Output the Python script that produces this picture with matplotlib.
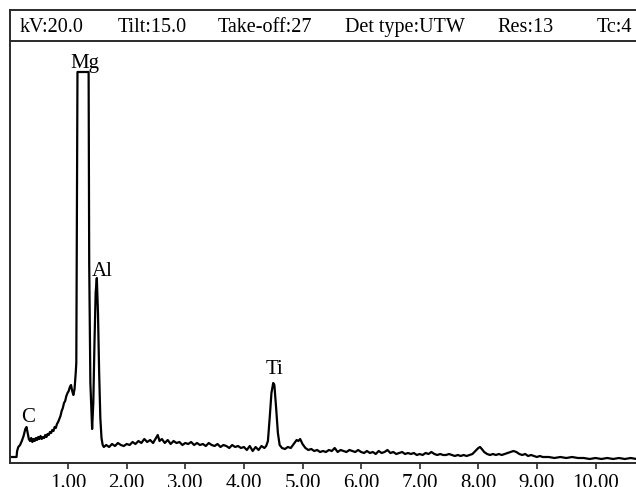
import matplotlib
matplotlib.use("Agg")
import matplotlib.pyplot as plt
import numpy as np

# ---- data ----
energy_low = [0.00, 0.12, 0.13, 0.15, 0.18, 0.21, 0.24, 0.27, 0.29, 0.31, 0.33, 0.35, 0.37, 0.39,
              0.41, 0.43, 0.45, 0.47, 0.49, 0.51, 0.53, 0.55, 0.57, 0.59, 0.61, 0.63, 0.65, 0.67,
              0.69, 0.71, 0.73, 0.75, 0.77, 0.79, 0.81, 0.83, 0.85, 0.87, 0.89, 0.91, 0.93, 0.95,
              0.97, 0.99, 1.01, 1.03, 1.05, 1.07, 1.09, 1.11, 1.13, 1.14, 1.16, 1.35, 1.36, 1.38,
              1.41, 1.43, 1.45, 1.47, 1.49, 1.51, 1.53, 1.55, 1.57, 1.59, 1.61]
counts_low = [6, 6, 12, 16, 18, 22, 27, 34, 36, 30, 24, 22, 25, 21,
              24, 22, 25, 23, 26, 24, 27, 24, 26, 25, 28, 26, 29, 28,
              31, 30, 33, 32, 36, 35, 39, 41, 44, 47, 52, 55, 60, 62,
              67, 70, 72, 76, 78, 72, 68, 74, 90, 100, 391, 391, 200, 80,
              34, 60, 120, 170, 185, 150, 90, 45, 25, 18, 16]

energy_mid = [1.65, 1.70, 1.75, 1.80, 1.85, 1.90, 1.95, 2.00, 2.05, 2.10, 2.15, 2.20, 2.25, 2.30,
              2.35, 2.40, 2.45, 2.50, 2.53, 2.56, 2.60, 2.65, 2.70, 2.75, 2.80, 2.85, 2.90, 2.95,
              3.00, 3.05, 3.10, 3.15, 3.20, 3.25, 3.30, 3.35, 3.40, 3.45, 3.50, 3.55, 3.60, 3.65,
              3.70, 3.75, 3.80, 3.85, 3.90, 3.95, 4.00, 4.05, 4.10, 4.15, 4.20, 4.25, 4.30, 4.35,
              4.38, 4.41, 4.44, 4.47, 4.50, 4.52, 4.55, 4.58, 4.61, 4.65, 4.70, 4.75, 4.80, 4.85,
              4.90, 4.93, 4.96, 5.00]
counts_mid = [18, 16, 19, 17, 20, 18, 17, 19, 18, 21, 19, 22, 20, 24,
              21, 23, 20, 25, 28, 22, 24, 20, 23, 19, 22, 20, 21, 18,
              20, 19, 21, 18, 20, 18, 19, 17, 20, 18, 17, 19, 16, 18,
              17, 15, 18, 16, 17, 15, 16, 13, 17, 12, 16, 13, 17, 15,
              17, 22, 45, 70, 80, 78, 55, 30, 18, 15, 14, 16, 15, 19,
              23, 22, 24, 19]

energy_high = [5.05, 5.10, 5.15, 5.20, 5.25, 5.30, 5.35, 5.40, 5.45, 5.50, 5.55, 5.60, 5.65, 5.70,
               5.75, 5.80, 5.85, 5.90, 5.95, 6.00, 6.05, 6.10, 6.15, 6.20, 6.25, 6.30, 6.35, 6.40,
               6.45, 6.50, 6.55, 6.60, 6.65, 6.70, 6.75, 6.80, 6.85, 6.90, 6.95, 7.00, 7.05, 7.10,
               7.15, 7.20, 7.25, 7.30, 7.35, 7.40, 7.45, 7.50, 7.55, 7.60, 7.65, 7.70, 7.75, 7.80,
               7.85, 7.90, 7.95, 8.00, 8.03, 8.06, 8.10, 8.15, 8.20, 8.25, 8.30, 8.35, 8.40, 8.45,
               8.50, 8.55, 8.60, 8.65, 8.70, 8.75, 8.80, 8.85, 8.90, 8.95, 9.00, 9.05, 9.10, 9.20,
               9.30, 9.40, 9.50, 9.60, 9.70, 9.80, 9.90, 10.00, 10.10, 10.20, 10.30, 10.40, 10.50,
               10.60, 10.70]
counts_high = [15, 13, 14, 12, 13, 11, 12, 11, 13, 12, 15, 11, 13, 12,
               11, 13, 12, 11, 13, 11, 10, 12, 10, 11, 9, 12, 10, 11,
               13, 10, 11, 9, 10, 11, 9, 10, 9, 10, 8, 9, 8, 10,
               9, 11, 9, 8, 9, 8, 8, 9, 8, 7, 8, 7, 8, 7,
               8, 9, 12, 15, 16, 14, 11, 9, 8, 9, 8, 9, 8, 9,
               10, 11, 12, 11, 9, 8, 9, 7, 8, 7, 6, 7, 6, 6,
               5, 6, 5, 6, 5, 5, 4, 5, 4, 5, 4, 5, 4,
               5, 4]

tick_values = [1, 2, 3, 4, 5, 6, 7, 8, 9, 10]
tick_labels = ["1.00", "2.00", "3.00", "4.00", "5.00", "6.00", "7.00", "8.00", "9.00", "10.00"]

header_items = ["kV:20.0", "Tilt:15.0", "Take-off:27", "Det type:UTW", "Res:13", "Tc:4"]

peak_labels = ["Mg", "Al", "Ti", "C"]
peak_label_pos = [(1.29, 400), (1.58, 192), (4.53, 94), (0.31, 46)]

energy = energy_low + energy_mid + energy_high
counts = counts_low + counts_mid + counts_high

# ---- figure ----
W, H = 636, 487
fig = plt.figure(figsize=(W / 100, H / 100), dpi=100)
serif = ["Liberation Serif", "DejaVu Serif"]
edge = "#2a2a2a"

x0 = 9.5
ax = fig.add_axes([x0 / W, (H - 463) / H, 1 - x0 / W + 0.01, (463 - 41) / H])
ax.plot(energy, counts, color="black", lw=1.6, solid_joinstyle="round")
ax.set_xlim(0, (W * (1 + 0.01) - x0) / 58.6)
ax.set_ylim(0, 422)
ax.set_yticks([])
ax.set_xticks(tick_values)
ax.set_xticklabels(tick_labels, fontfamily=serif, fontsize=15)
ax.tick_params(axis="x", direction="out", length=4, width=1.2, color=edge, pad=4)
for s in ["right", "top"]:
    ax.spines[s].set_visible(False)
for s in ["left", "bottom"]:
    ax.spines[s].set_color(edge)
    ax.spines[s].set_linewidth(1.4)

for lab, (px, py) in zip(peak_labels, peak_label_pos):
    ax.text(px, py, lab, fontfamily=serif, fontsize=15, ha="center", va="center")

# header box
hx = fig.add_axes([x0 / W, (H - 41) / H, 1 - x0 / W + 0.01, (41 - 10) / H])
hx.set_xticks([])
hx.set_yticks([])
hx.spines["right"].set_visible(False)
for s in ["left", "top", "bottom"]:
    hx.spines[s].set_color(edge)
    hx.spines[s].set_linewidth(1.4)

header_x = [20, 118, 218, 345, 497, 597]
for txt, px in zip(header_items, header_x):
    fig.text(px / W, (H - 32) / H, txt, fontfamily=serif, fontsize=14.5,
             ha="left", va="baseline")

fig.savefig("out.png", dpi=100)
